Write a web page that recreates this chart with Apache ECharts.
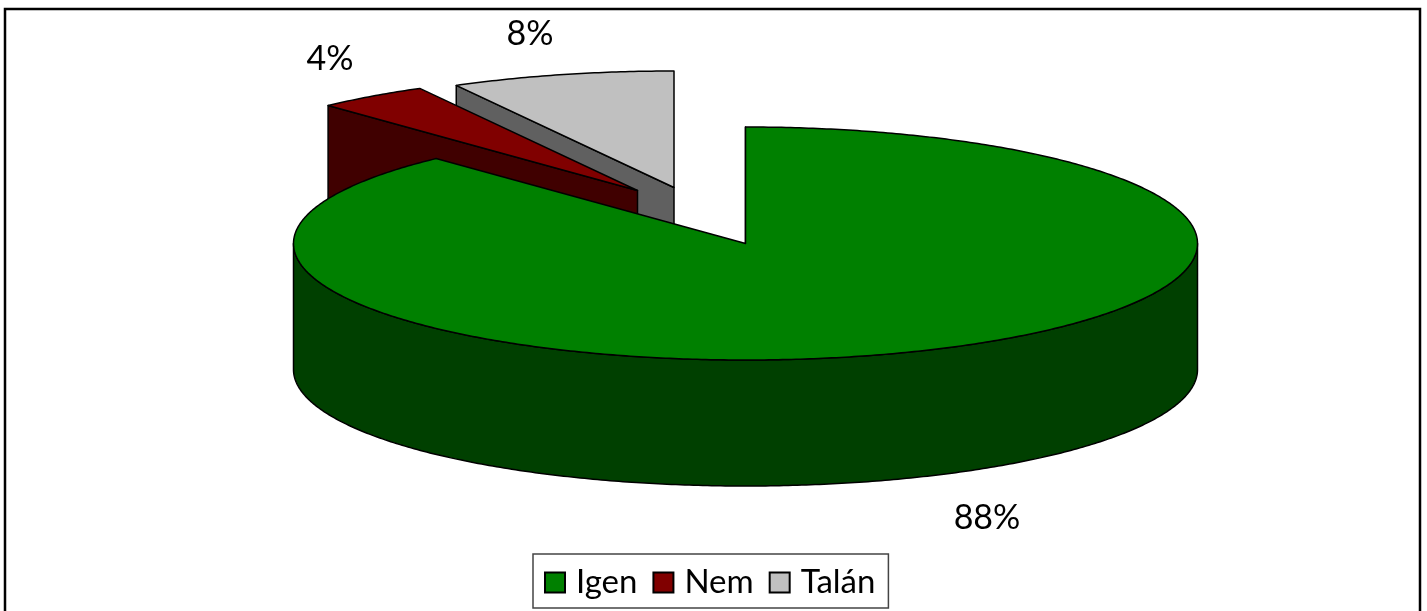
<!DOCTYPE html>
<html>
<head>
<meta charset="utf-8">
<style>html,body{margin:0;padding:0;background:#fff}#c{width:1427px;height:611px}</style>
<script src="https://cdn.jsdelivr.net/npm/echarts@6/dist/echarts.min.js"></script>
</head>
<body>
<div id="c"></div>
<script>
const categories = ['Igen', 'Nem', 'Talán'];
const shares = [88, 4, 8];

const topColors = ['#008000', '#800000', '#C0C0C0'];
const wallColors = ['#004000', '#400000', '#606060'];
const pieCentres = [[745.5, 243.5], [637.5, 190.5], [674, 187.5]];
const labelSpots = [[987, 518], [330, 59], [530, 34]];
const RX = 452, RY = 116.5, DEPTH = 126;
const FONT = 'Lato, "Open Sans", sans-serif';

const total = shares.reduce((a, b) => a + b, 0);
function sliceStart(i) {
  let s = 0;
  for (let k = 0; k < i; k++) s += shares[k];
  return s / total * Math.PI * 2;
}
function rim(c, a, drop) {
  return [c[0] + RX * Math.sin(a), c[1] - RY * Math.cos(a) + (drop || 0)];
}
function arcPoints(c, a0, a1, drop) {
  const pts = [], n = Math.max(2, Math.ceil((a1 - a0) / 0.01));
  for (let j = 0; j <= n; j++) pts.push(rim(c, a0 + (a1 - a0) * j / n, drop));
  return pts;
}
const lineStyle = { stroke: '#000', lineWidth: 1.5, lineJoin: 'round' };

function makeRender(i) {
  return function (params, api) {
    const c = pieCentres[i];
    const a0 = sliceStart(i);
    const a1 = a0 + api.value(0) / total * Math.PI * 2;
    const children = [];
    const edge = rim(c, a0);
    children.push({ type: 'polygon', shape: { points: [c, edge, [edge[0], edge[1] + DEPTH], [c[0], c[1] + DEPTH]] },
      style: Object.assign({ fill: wallColors[i] }, lineStyle) });
    const f0 = Math.max(a0, Math.PI / 2), f1 = Math.min(a1, Math.PI * 1.5);
    if (f1 > f0) {
      const front = arcPoints(c, f0, f1, 0).concat(arcPoints(c, f0, f1, DEPTH).reverse());
      children.push({ type: 'polygon', shape: { points: front }, style: Object.assign({ fill: wallColors[i] }, lineStyle) });
    }
    children.push({ type: 'polygon', shape: { points: [c].concat(arcPoints(c, a0, a1)) },
      style: Object.assign({ fill: topColors[i] }, lineStyle) });
    children.push({ type: 'text', x: labelSpots[i][0], y: labelSpots[i][1],
      style: { text: api.value(0) + '%', fill: '#000', font: '34px ' + FONT, textAlign: 'center', textVerticalAlign: 'middle' } });
    return { type: 'group', children };
  };
}

const drawOrder = [2, 1, 0];
const chart = echarts.init(document.getElementById('c'), null, { renderer: 'canvas' });
chart.setOption({
  animation: false,
  backgroundColor: '#fff',
  graphic: [{ type: 'rect', silent: true, z: -1,
    shape: { x: 5, y: 9, width: 1415, height: 700 },
    style: { fill: '#fff', stroke: '#000', lineWidth: 2.5 } }],
  legend: {
    data: categories, left: 533, top: 554, orient: 'horizontal',
    padding: [12, 13, 9, 11], itemGap: 15, itemWidth: 20, itemHeight: 20, icon: 'rect',
    backgroundColor: '#fff', borderColor: '#444', borderWidth: 1.5, selectedMode: false,
    itemStyle: { borderColor: '#000', borderWidth: 2 },
    textStyle: { color: '#000', fontFamily: FONT, fontSize: 33, padding: [0, 0, 0, 6] }
  },
  series: drawOrder.map(i => ({
    type: 'custom', name: categories[i], coordinateSystem: 'none', silent: true,
    itemStyle: { color: topColors[i] },
    data: [[shares[i]]],
    renderItem: makeRender(i)
  }))
});
</script>
</body>
</html>
